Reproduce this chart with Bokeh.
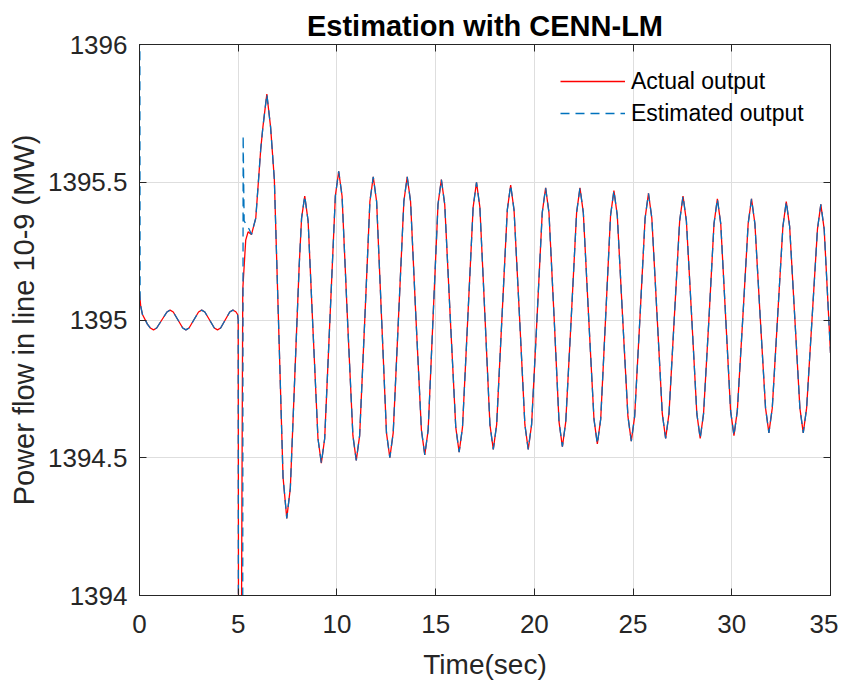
from bokeh.plotting import figure
from bokeh.models import (LinearAxis, FixedTicker, Legend, LegendItem, Range1d,
                          CustomLabelingPolicy)
from bokeh.embed import file_html
from bokeh.resources import INLINE

# ---------------- data ----------------
# start of each output (t in s, power in MW)
t_act_start = [0.00, 0.06]
v_act_start = [1395.10, 1395.05]
t_est_start = [0.00, 0.03]
v_est_start = [1397.50, 1395.06]

# small pre-fault oscillation (both outputs overlap)
t_wiggle = [0.15, 0.40, 0.55, 0.71, 0.87, 1.13, 1.39, 1.55, 1.71, 1.95, 2.19, 2.35,
            2.51, 2.75, 2.99, 3.15, 3.31, 3.55, 3.79, 3.95, 4.11, 4.34, 4.57, 4.73,
            4.88, 4.97]
v_wiggle = [1395.02, 1394.985, 1394.971, 1394.964, 1394.971, 1395.00, 1395.029,
            1395.036, 1395.029, 1395.00, 1394.971, 1394.964, 1394.971, 1395.00,
            1395.029, 1395.036, 1395.029, 1395.00, 1394.971, 1394.964, 1394.971,
            1395.00, 1395.029, 1395.036, 1395.03, 1395.02]

# fault at t = 5 s
t_act_fault = [5.00, 5.03, 5.10, 5.17, 5.23, 5.38, 5.50, 5.67, 5.89, 6.14]
v_act_fault = [1395.00, 1392.50, 1392.50, 1394.00, 1395.11, 1395.29, 1395.32,
               1395.31, 1395.37, 1395.62]
t_est_fault = [5.00, 5.02, 5.21, 5.25, 5.30, 5.45, 5.55, 5.67, 5.89, 6.14]
v_est_fault = [1395.00, 1392.50, 1392.50, 1395.67, 1395.36, 1395.34, 1395.33,
               1395.31, 1395.37, 1395.62]

# post-fault oscillation (both outputs overlap)
t_osc = [6.25, 6.45, 6.64, 6.83, 7.08, 7.27,
         7.46, 7.64, 7.84, 8.09, 8.21, 8.37,
         8.54, 8.79, 9.04, 9.21, 9.38, 9.65, 9.92, 10.09,
         10.26, 10.53, 10.81, 10.98, 11.15, 11.41, 11.67, 11.84,
         12.01, 12.26, 12.51, 12.68, 12.85, 13.12, 13.39, 13.56,
         13.73, 14.00, 14.28, 14.45, 14.62, 14.87, 15.12, 15.29,
         15.46, 15.74, 16.02, 16.19, 16.36, 16.63, 16.90, 17.07,
         17.24, 17.50, 17.75, 17.92, 18.09, 18.36, 18.63, 18.80,
         18.97, 19.25, 19.52, 19.69, 19.86, 20.13, 20.40, 20.57,
         20.74, 21.00, 21.25, 21.42, 21.59, 21.87, 22.14, 22.31,
         22.48, 22.75, 23.02, 23.19, 23.36, 23.61, 23.86, 24.03,
         24.20, 24.47, 24.74, 24.91, 25.08, 25.35, 25.61, 25.78,
         25.95, 26.22, 26.48, 26.65, 26.82, 27.09, 27.36, 27.53,
         27.70, 27.97, 28.23, 28.40, 28.57, 28.84, 29.10, 29.27,
         29.44, 29.69, 29.94, 30.11, 30.28, 30.56, 30.83, 31.00,
         31.17, 31.44, 31.71, 31.88, 32.05, 32.32, 32.59, 32.76,
         32.93, 33.19, 33.45, 33.62, 33.79, 34.07, 34.34, 34.51,
         34.68, 35.00]
v_osc = [1395.70, 1395.82, 1395.70, 1395.51, 1394.90, 1394.43,
         1394.28, 1394.39, 1394.75, 1395.20, 1395.37, 1395.45,
         1395.36, 1394.96, 1394.57, 1394.48, 1394.57, 1395.01, 1395.45, 1395.54,
         1395.45, 1395.01, 1394.58, 1394.49, 1394.58, 1395.00, 1395.43, 1395.52,
         1395.43, 1395.01, 1394.59, 1394.50, 1394.59, 1395.01, 1395.43, 1395.52,
         1395.43, 1395.01, 1394.60, 1394.51, 1394.60, 1395.01, 1395.42, 1395.51,
         1395.42, 1395.01, 1394.61, 1394.52, 1394.61, 1395.01, 1395.41, 1395.50,
         1395.41, 1395.01, 1394.62, 1394.53, 1394.62, 1395.01, 1395.40, 1395.49,
         1395.40, 1395.01, 1394.62, 1394.53, 1394.62, 1395.00, 1395.39, 1395.48,
         1395.39, 1395.01, 1394.63, 1394.54, 1394.63, 1395.01, 1395.39, 1395.48,
         1395.39, 1395.01, 1394.64, 1394.55, 1394.64, 1395.01, 1395.38, 1395.47,
         1395.38, 1395.01, 1394.65, 1394.56, 1394.65, 1395.01, 1395.37, 1395.46,
         1395.37, 1395.01, 1394.66, 1394.57, 1394.66, 1395.01, 1395.36, 1395.45,
         1395.36, 1395.01, 1394.66, 1394.57, 1394.66, 1395.00, 1395.35, 1395.44,
         1395.35, 1395.01, 1394.67, 1394.58, 1394.67, 1395.01, 1395.35, 1395.44,
         1395.35, 1395.01, 1394.68, 1394.59, 1394.68, 1395.01, 1395.34, 1395.43,
         1395.34, 1395.01, 1394.68, 1394.59, 1394.68, 1395.01, 1395.33, 1395.42,
         1395.33, 1394.88]

t_actual = t_act_start + t_wiggle + t_act_fault + t_osc
v_actual = v_act_start + v_wiggle + v_act_fault + v_osc
t_estimated = t_est_start + t_wiggle + t_est_fault + t_osc
v_estimated = v_est_start + v_wiggle + v_est_fault + v_osc

x_ticks = [0, 5, 10, 15, 20, 25, 30, 35]
y_ticks = [1394, 1394.5, 1395, 1395.5, 1396]
y_tick_labels = ["1394", "1394.5", "1395", "1395.5", "1396"]

series_names = ["Actual output", "Estimated output"]
title_text = "Estimation with CENN-LM"
x_label = "Time(sec)"
y_label = "Power flow in line 10-9 (MW)"

# ---------------- figure ----------------
FONT = "Liberation Sans"
AX = "#262626"

p = figure(frame_width=691, frame_height=551,
           x_range=Range1d(0, 35), y_range=Range1d(1394, 1396),
           output_backend="svg", toolbar_location=None,
           min_border_left=139, min_border_top=44, min_border_right=8,
           min_border_bottom=80, background_fill_color="white",
           border_fill_color="white")

p.title.text = title_text
p.title.align = "center"
p.title.text_font = FONT
p.title.text_font_size = "29px"
p.title.text_font_style = "bold"
p.title.text_color = "black"
p.title.offset = 0
p.title.standoff = 5

p.outline_line_color = AX
p.outline_line_width = 1

no_labels = CustomLabelingPolicy(code="return new Set()")

def style_axis(ax, show_labels):
    ax.axis_line_color = AX
    ax.major_tick_line_color = AX
    ax.minor_tick_line_color = None
    ax.major_tick_in = 7
    ax.major_tick_out = 0
    ax.major_label_text_font = FONT
    ax.major_label_text_color = AX
    if show_labels:
        ax.major_label_text_font_size = "26px"
    else:
        ax.major_label_policy = no_labels
        ax.major_label_text_font_size = "0px"
        ax.major_label_standoff = 0

xa = p.xaxis[0]
ya = p.yaxis[0]
xa.ticker = FixedTicker(ticks=x_ticks)
ya.ticker = FixedTicker(ticks=y_ticks)
ya.major_label_overrides = {v: s for v, s in zip(y_ticks, y_tick_labels)}
style_axis(xa, True)
style_axis(ya, True)
xa.major_label_standoff = 19
ya.major_label_standoff = 12
xa.axis_label = x_label
ya.axis_label = y_label
for ax in (xa, ya):
    ax.axis_label_text_font = FONT
    ax.axis_label_text_font_style = "normal"
    ax.axis_label_text_color = AX
xa.axis_label_text_font_size = "28px"
ya.axis_label_text_font_size = "29px"
xa.axis_label_standoff = 13
ya.axis_label_standoff = 5

top_ax = LinearAxis(ticker=FixedTicker(ticks=x_ticks))
right_ax = LinearAxis(ticker=FixedTicker(ticks=y_ticks))
style_axis(top_ax, False)
style_axis(right_ax, False)
p.add_layout(top_ax, "above")
p.add_layout(right_ax, "right")

p.xgrid.ticker = FixedTicker(ticks=x_ticks)
p.ygrid.ticker = FixedTicker(ticks=y_ticks)
p.grid.grid_line_color = "#dedede"
p.grid.grid_line_width = 1

r1 = p.line(t_actual, v_actual, line_color="#FF0000", line_width=1.3)
r2 = p.line(t_estimated, v_estimated, line_color="#0072BD", line_width=1.3,
            line_dash="9 6")

legend = Legend(items=[LegendItem(label=series_names[0], renderers=[r1]),
                       LegendItem(label=series_names[1], renderers=[r2])],
                location=(421, 467), glyph_width=65, glyph_height=30,
                label_height=30, spacing=2, padding=0, margin=0,
                label_standoff=6, background_fill_alpha=0,
                border_line_alpha=0, label_text_font=FONT,
                label_text_font_size="23px", label_text_color="black")
p.add_layout(legend)

open("out.html", "w").write(file_html(p, INLINE))
